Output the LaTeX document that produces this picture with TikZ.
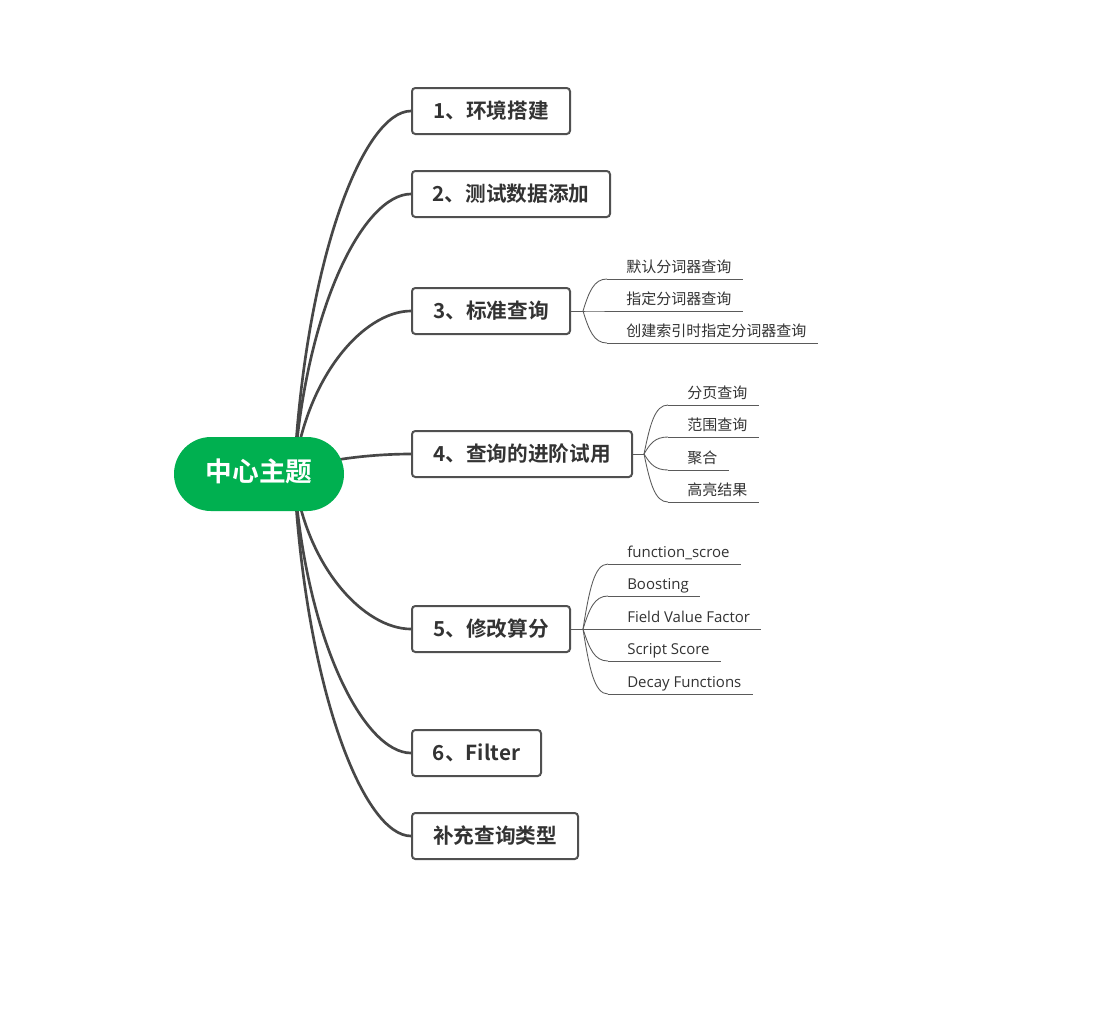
\documentclass[tikz,border=0pt]{standalone}
\usepackage{fontspec}
\setmainfont{Noto Sans CJK SC}[BoldFont={Noto Sans CJK SC Bold}]
\newfontfamily\latf{Open Sans}
\usetikzlibrary{calc,backgrounds}
\definecolor{rootg}{RGB}{0,176,80}
\definecolor{boxc}{HTML}{505050}
\definecolor{linec}{HTML}{474747}
\definecolor{txt}{HTML}{333333}
\definecolor{leafc}{HTML}{5a5a5a}
\newcommand\maincurve[2]{\draw[mainline] let \p1=(#1),\p2=(#2) in (#1) .. controls ({\x1+0.1*(\x2-\x1)},{\y1+0.6*(\y2-\y1)}) and ({\x1+0.6*(\x2-\x1)},\y2) .. (#2);}
\newcommand\leafcurve[2]{\draw[leafline] let \p1=(#1),\p2=(#2) in (#1) .. controls ({\x1+0.25*(\x2-\x1)},{\y1+0.6*(\y2-\y1)}) and ({\x2-0.55*(\x2-\x1)},\y2) .. (#2);}
\begin{document}
\begin{tikzpicture}[x=0.75pt,y=-0.75pt,
  box/.style={draw=boxc, line width=1.5pt, rounded corners=2.5pt, fill=white,
    font=\bfseries\fontsize{15.5}{18}\selectfont, text=txt, minimum height=34.5pt,
    inner sep=0pt, anchor=west, text height=1.05em, text depth=0em},
  rootn/.style={fill=rootg, rounded corners=27.75pt, minimum width=127.5pt, minimum height=55.5pt,
    text=white, font=\bfseries\fontsize{20}{24}\selectfont, inner sep=0pt,
    text height=1.1em, text depth=0em},
  mainline/.style={draw=linec, line width=2pt},
  leafline/.style={draw=leafc, line width=0.65pt},
  leaf/.style={anchor=base west, inner sep=0pt, text=txt, font=\fontsize{11.25}{13}\selectfont},
  leafl/.style={leaf, font=\latf\fontsize{11.25}{13}\selectfont}
]
\useasboundingbox (0,0) rectangle (1112,1011);

% root
\node[rootn] (root) at (259,474) {中心主题};
\coordinate (rs) at ($(root.center)+(35,0)$);

% branches
\node[box, minimum width=118.5pt] (b1) at (411,111) {1、环境搭建};
\node[box, minimum width=148.5pt] (b2) at (411,194) {2、测试数据添加};
\node[box, minimum width=118.5pt] (b3) at (411,311) {3、标准查询};
\node[box, minimum width=165pt]   (b4) at (411,454) {4、查询的进阶试用};
\node[box, minimum width=118.5pt] (b5) at (411,629) {5、修改算分};
\node[box, minimum width=96.75pt] (b6) at (411,753) {6、Filter};
\node[box, minimum width=124.5pt] (b7) at (411,836) {补充查询类型};

\begin{pgfonlayer}{background}
\fill[white] (0,0) rectangle (1112,1011);
\maincurve{rs}{b1.west}
\maincurve{rs}{b2.west}
\maincurve{rs}{b3.west}
\maincurve{rs}{b4.west}
\maincurve{rs}{b5.west}
\maincurve{rs}{b6.west}
\maincurve{rs}{b7.west}
\end{pgfonlayer}

% branch 3 leaves
\coordinate (h3) at ($(b3.east)+(12,0)$);
\coordinate (j31) at (607,279);
\coordinate (j32) at (607,311);
\coordinate (j33) at (607,343);
\node[leaf] (t31) at (626,272.5) {默认分词器查询};
\node[leaf] (t32) at (626,304.5) {指定分词器查询};
\node[leaf] (t33) at (626,336.5) {创建索引时指定分词器查询};
\draw[leafline] (b3.east) -- (h3);
\leafcurve{h3}{j31}
\leafcurve{h3}{j32}
\leafcurve{h3}{j33}
\draw[leafline] (j31) -- ($(t31.east|-j31)+(11,0)$);
\draw[leafline] (j32) -- ($(t32.east|-j32)+(11,0)$);
\draw[leafline] (j33) -- ($(t33.east|-j33)+(11,0)$);

% branch 4 leaves
\coordinate (h4) at ($(b4.east)+(11,0)$);
\coordinate (j41) at (668,405);
\coordinate (j42) at (668,437);
\coordinate (j43) at (668,470);
\coordinate (j44) at (668,502);
\node[leaf] (t41) at (687,398.5) {分页查询};
\node[leaf] (t42) at (687,430.5) {范围查询};
\node[leaf] (t43) at (687,463.5) {聚合};
\node[leaf] (t44) at (687,495.5) {高亮结果};
\draw[leafline] (b4.east) -- (h4);
\leafcurve{h4}{j41}
\leafcurve{h4}{j42}
\leafcurve{h4}{j43}
\leafcurve{h4}{j44}
\draw[leafline] (j41) -- ($(t41.east|-j41)+(11,0)$);
\draw[leafline] (j42) -- ($(t42.east|-j42)+(11,0)$);
\draw[leafline] (j43) -- ($(t43.east|-j43)+(11,0)$);
\draw[leafline] (j44) -- ($(t44.east|-j44)+(11,0)$);

% branch 5 leaves
\coordinate (h5) at ($(b5.east)+(12,0)$);
\coordinate (j51) at (608,564);
\coordinate (j52) at (608,596);
\coordinate (j53) at (608,629);
\coordinate (j54) at (608,661);
\coordinate (j55) at (608,694);
\node[leafl] (t51) at (627,557.5) {function\_scroe};
\node[leafl] (t52) at (627,589.5) {Boosting};
\node[leafl] (t53) at (627,622.5) {Field Value Factor};
\node[leafl] (t54) at (627,654.5) {Script Score};
\node[leafl] (t55) at (627,687.5) {Decay Functions};
\draw[leafline] (b5.east) -- (h5);
\leafcurve{h5}{j51}
\leafcurve{h5}{j52}
\leafcurve{h5}{j53}
\leafcurve{h5}{j54}
\leafcurve{h5}{j55}
\draw[leafline] (j51) -- ($(t51.east|-j51)+(11,0)$);
\draw[leafline] (j52) -- ($(t52.east|-j52)+(11,0)$);
\draw[leafline] (j53) -- ($(t53.east|-j53)+(11,0)$);
\draw[leafline] (j54) -- ($(t54.east|-j54)+(11,0)$);
\draw[leafline] (j55) -- ($(t55.east|-j55)+(11,0)$);
\end{tikzpicture}
\end{document}
